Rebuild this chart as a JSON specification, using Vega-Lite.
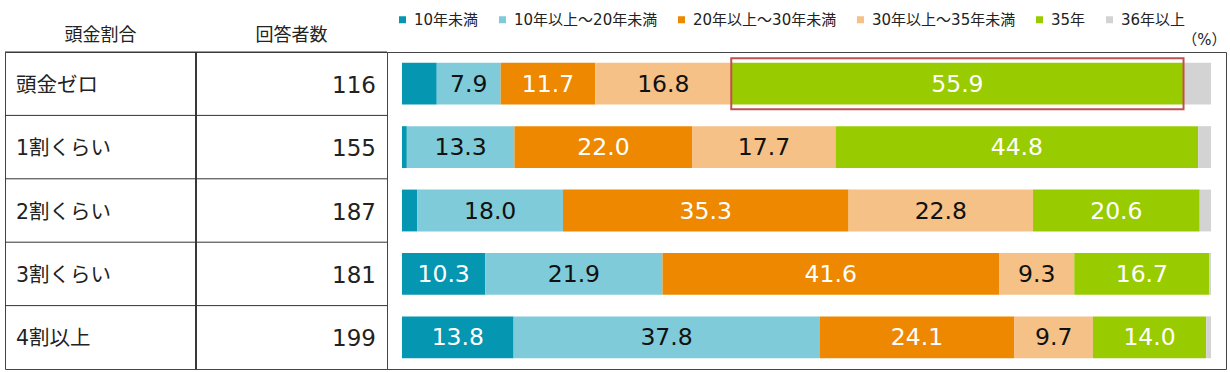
{
  "$schema": "https://vega.github.io/schema/vega-lite/v6.json",
  "autosize": {"type": "pad"},
  "padding": {"left": 4, "top": 3, "right": 5, "bottom": 5},
  "background": "white",
  "config": {
    "view": {"stroke": "#444", "strokeWidth": 1},
    "font": "DejaVu Sans, Noto Sans CJK JP",
    "concat": {"spacing": 0}
  },
  "bounds": "flush",
  "spacing": 0,
  "resolve": {
    "scale": {"x": "independent", "y": "independent", "color": "independent"},
    "legend": {"color": "independent"}
  },
  "hconcat": [
    {
      "width": 382,
      "height": 317,
      "data": {"values": [
        {"group": "頭金ゼロ", "n": 116},
        {"group": "1割くらい", "n": 155},
        {"group": "2割くらい", "n": 187},
        {"group": "3割くらい", "n": 181},
        {"group": "4割以上", "n": 199}
      ]},
      "layer": [
        {
          "mark": {"type": "rule", "color": "#333", "strokeWidth": 1},
          "encoding": {
            "y": {
              "field": "group", "type": "nominal", "bandPosition": 0,
              "sort": ["頭金ゼロ", "1割くらい", "2割くらい", "3割くらい", "4割以上"],
              "scale": {"paddingInner": 0, "paddingOuter": 0},
              "axis": null
            }
          }
        },
        {
          "mark": {"type": "rule", "color": "#333", "strokeWidth": 1},
          "encoding": {
            "x": {
              "datum": "回答者数", "type": "nominal", "bandPosition": 0,
              "scale": {"domain": ["頭金割合", "回答者数"], "paddingInner": 0, "paddingOuter": 0},
              "axis": {"orient": "top", "title": null, "ticks": false, "domain": false, "grid": false, "labelFontSize": 18, "labelPadding": 8, "labelColor": "#222", "labelAngle": 0}
            }
          }
        },
        {
          "mark": {"type": "text", "align": "left", "baseline": "middle", "dx": 11, "dy": 2, "fontSize": 20.5, "color": "#222"},
          "encoding": {
            "y": {"field": "group", "type": "nominal", "sort": ["頭金ゼロ", "1割くらい", "2割くらい", "3割くらい", "4割以上"], "axis": null},
            "x": {"datum": "頭金割合", "type": "nominal", "bandPosition": 0},
            "text": {"field": "group"}
          }
        },
        {
          "mark": {"type": "text", "align": "right", "baseline": "middle", "dx": -11, "dy": 2, "fontSize": 23, "color": "#222"},
          "encoding": {
            "y": {"field": "group", "type": "nominal", "sort": ["頭金ゼロ", "1割くらい", "2割くらい", "3割くらい", "4割以上"], "axis": null},
            "x": {"datum": "回答者数", "type": "nominal", "bandPosition": 1},
            "text": {"field": "n"}
          }
        }
      ]
    },
    {
      "width": 839,
      "height": 317,
      "data": {"values": [
        {"group": "頭金ゼロ", "cat": "10年未満", "value": 4.3},
        {"group": "頭金ゼロ", "cat": "10年以上～20年未満", "value": 7.9},
        {"group": "頭金ゼロ", "cat": "20年以上～30年未満", "value": 11.7},
        {"group": "頭金ゼロ", "cat": "30年以上～35年未満", "value": 16.8},
        {"group": "頭金ゼロ", "cat": "35年", "value": 55.9},
        {"group": "頭金ゼロ", "cat": "36年以上", "value": 3.4},
        {"group": "1割くらい", "cat": "10年未満", "value": 0.6},
        {"group": "1割くらい", "cat": "10年以上～20年未満", "value": 13.3},
        {"group": "1割くらい", "cat": "20年以上～30年未満", "value": 22.0},
        {"group": "1割くらい", "cat": "30年以上～35年未満", "value": 17.7},
        {"group": "1割くらい", "cat": "35年", "value": 44.8},
        {"group": "1割くらい", "cat": "36年以上", "value": 1.6},
        {"group": "2割くらい", "cat": "10年未満", "value": 1.9},
        {"group": "2割くらい", "cat": "10年以上～20年未満", "value": 18.0},
        {"group": "2割くらい", "cat": "20年以上～30年未満", "value": 35.3},
        {"group": "2割くらい", "cat": "30年以上～35年未満", "value": 22.8},
        {"group": "2割くらい", "cat": "35年", "value": 20.6},
        {"group": "2割くらい", "cat": "36年以上", "value": 1.4},
        {"group": "3割くらい", "cat": "10年未満", "value": 10.3},
        {"group": "3割くらい", "cat": "10年以上～20年未満", "value": 21.9},
        {"group": "3割くらい", "cat": "20年以上～30年未満", "value": 41.6},
        {"group": "3割くらい", "cat": "30年以上～35年未満", "value": 9.3},
        {"group": "3割くらい", "cat": "35年", "value": 16.7},
        {"group": "3割くらい", "cat": "36年以上", "value": 0.2},
        {"group": "4割以上", "cat": "10年未満", "value": 13.8},
        {"group": "4割以上", "cat": "10年以上～20年未満", "value": 37.8},
        {"group": "4割以上", "cat": "20年以上～30年未満", "value": 24.1},
        {"group": "4割以上", "cat": "30年以上～35年未満", "value": 9.7},
        {"group": "4割以上", "cat": "35年", "value": 14.0},
        {"group": "4割以上", "cat": "36年以上", "value": 0.6}
      ]},
      "transform": [
        {"calculate": "indexof(['10年未満','10年以上～20年未満','20年以上～30年未満','30年以上～35年未満','35年','36年以上'], datum.cat)", "as": "k"},
        {"stack": "value", "groupby": ["group"], "sort": [{"field": "k", "order": "ascending"}], "as": ["x0", "x1"]},
        {"calculate": "(datum.x0 + datum.x1) / 2", "as": "mid"}
      ],
      "encoding": {
        "y": {
          "field": "group", "type": "nominal",
          "sort": ["頭金ゼロ", "1割くらい", "2割くらい", "3割くらい", "4割以上"],
          "scale": {"paddingInner": 0.34, "paddingOuter": 0.17},
          "axis": null
        }
      },
      "layer": [
        {
          "mark": {"type": "bar"},
          "encoding": {
            "x": {
              "field": "x0", "type": "quantitative",
              "scale": {"domain": [-1.85, 101.85], "nice": false, "zero": false},
              "axis": {"orient": "top", "title": "（%）", "labels": false, "ticks": false, "domain": false, "grid": false, "titleAnchor": "end", "titleFontSize": 15, "titleFontWeight": "normal", "titlePadding": 5, "titleColor": "#222"}
            },
            "x2": {"field": "x1"},
            "color": {
              "field": "cat", "type": "nominal",
              "scale": {
                "domain": ["10年未満", "10年以上～20年未満", "20年以上～30年未満", "30年以上～35年未満", "35年", "36年以上"],
                "range": ["#0596b1", "#7fcbd9", "#ee8800", "#f5c186", "#99cc00", "#d3d3d3"]
              },
              "legend": {
                "orient": "top", "direction": "horizontal", "title": null,
                "symbolType": "square", "symbolSize": 49, "symbolStrokeWidth": 0,
                "labelFontSize": 15, "labelColor": "#222", "labelOffset": 4,
                "columnPadding": 16, "padding": 8, "offset": -4
              }
            }
          }
        },
        {
          "transform": [{"filter": "datum.group === '頭金ゼロ' && datum.cat === '35年'"}],
          "mark": {"type": "bar", "fill": "transparent", "stroke": "#c0504d", "strokeWidth": 2, "height": {"band": 1.22}},
          "encoding": {
            "x": {"field": "x0", "type": "quantitative"},
            "x2": {"field": "x1"}
          }
        },
        {
          "transform": [{"filter": "datum.value >= 5"}],
          "mark": {"type": "text", "align": "center", "baseline": "middle", "dy": 1, "fontSize": 23.5},
          "encoding": {
            "x": {"field": "mid", "type": "quantitative"},
            "text": {"field": "value", "type": "quantitative", "format": ".1f"},
            "color": {
              "condition": {"test": "datum.cat === '10年未満' || datum.cat === '20年以上～30年未満' || datum.cat === '35年'", "value": "#ffffff"},
              "value": "#111111"
            }
          }
        }
      ]
    }
  ]
}
